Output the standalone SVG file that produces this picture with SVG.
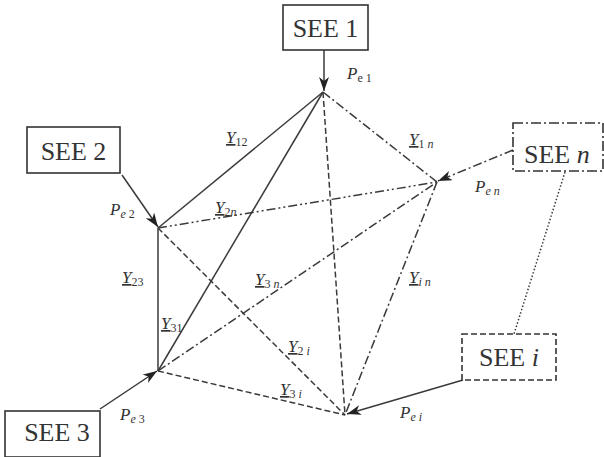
<svg xmlns="http://www.w3.org/2000/svg" width="604" height="457" viewBox="0 0 604 457">
<style>
.box{fill:#fff;stroke:#333;stroke-width:1.6}
.see{font-family:"Liberation Serif",serif;font-size:26px;fill:#333}
.lbl{font-family:"Liberation Serif",serif;font-size:17px;font-style:italic;fill:#333}
.sub{font-size:12px}
.ln{fill:none;stroke:#3a3a3a;stroke-width:1.5}
.dash{stroke-dasharray:6,3}
.dd{stroke-dasharray:9,3,2,3}
.ddd{stroke-dasharray:9,3,2,3,2,3}
.dot{stroke-dasharray:1.5,2}
</style>
<defs>
<marker id="ah" markerUnits="userSpaceOnUse" markerWidth="15" markerHeight="10" refX="14" refY="5" orient="auto">
<path d="M0,0 L14,5 L0,10 L4,5 z" fill="#222"/>
</marker>
</defs>
<rect width="604" height="457" fill="#fff"/>

<g id="connectors">
<line class="ln" x1="323" y1="92" x2="158" y2="228"/>
<line class="ln" x1="323" y1="92" x2="158" y2="371"/>
<line class="ln" x1="158" y1="228" x2="158" y2="371"/>
<line class="ln dd" x1="323" y1="92" x2="437" y2="182"/>
<line class="ln dash" x1="323" y1="92" x2="345" y2="415"/>
<line class="ln ddd" x1="158" y1="228" x2="437" y2="182"/>
<line class="ln dash" x1="158" y1="228" x2="345" y2="415"/>
<line class="ln dd" x1="158" y1="371" x2="437" y2="182"/>
<line class="ln dash" x1="158" y1="371" x2="345" y2="415"/>
<line class="ln dd" x1="437" y1="182" x2="345" y2="415"/>
<line class="ln" x1="324" y1="50" x2="324" y2="91" marker-end="url(#ah)"/>
<line class="ln" x1="122" y1="175" x2="158" y2="227" marker-end="url(#ah)"/>
<line class="ln" x1="100" y1="409" x2="157" y2="371" marker-end="url(#ah)"/>
<line class="ln dd" x1="513" y1="150" x2="438" y2="181" marker-end="url(#ah)"/>
<line class="ln" x1="463" y1="380" x2="347" y2="414" marker-end="url(#ah)"/>
<line class="ln dot" x1="565" y1="172" x2="514" y2="334"/>
</g>

<g id="see1"><rect class="box" x="283" y="5" width="85" height="45"/><text class="see" x="325.5" y="37" text-anchor="middle">SEE 1</text></g>
<g id="see2"><rect class="box" x="27" y="127" width="93" height="46"/><text class="see" x="73.5" y="160" text-anchor="middle">SEE 2</text></g>
<g id="see3"><rect class="box" x="5" y="411" width="95" height="46"/><text class="see" x="57" y="441" text-anchor="middle">SEE 3</text></g>
<g id="seen"><rect class="box" x="513" y="123" width="90" height="48" style="stroke-dasharray:10,3,2,3"/><text class="see" x="524" y="163">SEE <tspan font-style="italic">n</tspan></text></g>
<g id="seei"><rect class="box" x="462" y="334" width="94" height="46" style="stroke-dasharray:6,3"/><text class="see" x="509" y="366" text-anchor="middle">SEE <tspan font-style="italic">i</tspan></text></g>

<g id="labels">
<text class="lbl" x="347" y="79">P<tspan class="sub" dy="3" font-style="normal">e 1</tspan></text>
<text class="lbl" x="110" y="215">P<tspan class="sub" dy="3">e </tspan><tspan class="sub" font-style="normal">2</tspan></text>
<text class="lbl" x="120" y="420">P<tspan class="sub" dy="3">e </tspan><tspan class="sub" font-style="normal">3</tspan></text>
<text class="lbl" x="475" y="192">P<tspan class="sub" dy="3">e n</tspan></text>
<text class="lbl" x="400" y="418">P<tspan class="sub" dy="3">e i</tspan></text>
<text class="lbl" x="226" y="143"><tspan text-decoration="underline">Y</tspan><tspan class="sub" dy="3" font-style="normal">12</tspan></text>
<text class="lbl" x="409" y="145"><tspan text-decoration="underline">Y</tspan><tspan class="sub" dy="3" font-style="normal">1 </tspan><tspan class="sub">n</tspan></text>
<text class="lbl" x="215" y="213"><tspan text-decoration="underline">Y</tspan><tspan class="sub" dy="3" font-style="normal">2</tspan><tspan class="sub">n</tspan></text>
<text class="lbl" x="122" y="283"><tspan text-decoration="underline">Y</tspan><tspan class="sub" dy="3" font-style="normal">23</tspan></text>
<text class="lbl" x="255" y="285"><tspan text-decoration="underline">Y</tspan><tspan class="sub" dy="3" font-style="normal">3 </tspan><tspan class="sub">n</tspan></text>
<text class="lbl" x="409" y="283"><tspan text-decoration="underline">Y</tspan><tspan class="sub" dy="3">i n</tspan></text>
<text class="lbl" x="161" y="329"><tspan text-decoration="underline">Y</tspan><tspan class="sub" dy="3" font-style="normal">31</tspan></text>
<text class="lbl" x="288" y="352"><tspan text-decoration="underline">Y</tspan><tspan class="sub" dy="3" font-style="normal">2 </tspan><tspan class="sub">i</tspan></text>
<text class="lbl" x="280" y="395"><tspan text-decoration="underline">Y</tspan><tspan class="sub" dy="3" font-style="normal">3 </tspan><tspan class="sub">i</tspan></text>
</g>
</svg>
